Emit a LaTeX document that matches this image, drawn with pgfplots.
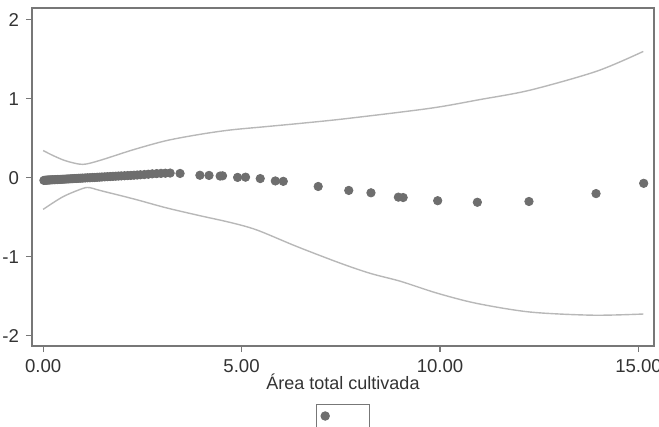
\documentclass[border=0pt]{standalone}
\usepackage{pgfplots}
\pgfplotsset{compat=1.18}
\usepackage{fontspec}
\setmainfont{Liberation Sans}
\definecolor{dotcol}{HTML}{6E6E6E}
\definecolor{cicol}{HTML}{B8B8B8}
\definecolor{framecol}{HTML}{777777}
\definecolor{txtcol}{HTML}{333333}
\begin{document}
\begin{tikzpicture}
\begin{axis}[
  at={(0,0)}, anchor=north west,
  scale only axis, width=311pt, height=169pt,
  xmin=-0.28, xmax=15.39, ymin=-2.13, ymax=2.15,
  axis line style={framecol, line width=0.7pt},
  tick style={framecol, line width=0.6pt},
  tick align=outside, major tick length=3pt,
  xtick pos=bottom, ytick pos=left,
  xtick={0,5,10,15}, ytick={-2,-1,0,1,2},
  xticklabels={0.00,5.00,10.00,15.00},
  yticklabels={-2,-1,0,1,2},
  ticklabel style={font=\fontsize{9.3}{10}\selectfont, text=txtcol},
  xlabel={Área total cultivada},
  xlabel style={font=\fontsize{9}{10}\selectfont, text=txtcol, yshift=6pt},
  clip=true,
  legend style={draw=framecol, line width=0.5pt, at={(0.4566,-0.1716)}, anchor=north west,
    inner xsep=2pt, inner ysep=3pt, font=\fontsize{9}{10}\selectfont},
  legend image code/.code={\fill[dotcol] (0.25cm,0cm) circle (2.1pt);},
]
\addplot[only marks, mark=*, mark size=2.1pt, mark options={draw=dotcol, fill=dotcol}] coordinates {
(0.02,-0.033)(0.05,-0.031)(0.08,-0.030)(0.11,-0.029)(0.14,-0.028)(0.17,-0.027)(0.20,-0.026)
(0.24,-0.025)(0.28,-0.024)(0.32,-0.023)(0.36,-0.022)(0.40,-0.021)(0.45,-0.020)(0.50,-0.018)
(0.55,-0.017)(0.60,-0.015)(0.65,-0.014)(0.70,-0.012)(0.75,-0.011)(0.80,-0.009)(0.85,-0.008)
(0.90,-0.006)(0.95,-0.005)(1.00,-0.004)(1.06,-0.002)(1.12,0.000)(1.18,0.001)(1.24,0.003)
(1.30,0.004)(1.36,0.006)(1.42,0.008)(1.48,0.010)(1.55,0.012)(1.62,0.014)(1.69,0.016)
(1.76,0.018)(1.83,0.020)(1.90,0.022)(1.97,0.024)(2.05,0.026)(2.13,0.028)(2.21,0.030)
(2.29,0.033)(2.37,0.035)(2.45,0.038)(2.55,0.041)(2.65,0.045)(2.75,0.050)(2.86,0.053)
(2.97,0.056)(3.08,0.058)(3.20,0.060)(3.45,0.055)(3.95,0.032)(4.18,0.030)(4.46,0.022)
(4.52,0.025)(4.90,0.005)(5.10,0.008)(5.47,-0.010)(5.85,-0.040)(6.05,-0.045)(6.93,-0.110)
(7.70,-0.160)(8.26,-0.190)(8.95,-0.245)(9.07,-0.250)(9.94,-0.290)(10.94,-0.310)
(12.24,-0.300)(13.93,-0.200)(15.13,-0.070)
};
\addlegendentry{\hspace*{14pt}}
\addplot[cicol, line width=0.7pt, smooth, forget plot] coordinates {
(0,0.345)(0.3,0.27)(0.6,0.21)(1.0,0.17)(1.43,0.22)(2.27,0.355)(3.1,0.47)(3.95,0.55)
(4.71,0.605)(5.55,0.645)(6.5,0.69)(7.65,0.75)(9.75,0.88)(11.0,0.99)(12.27,1.11)(13.95,1.35)(15.12,1.60)
};
\addplot[cicol, line width=0.7pt, smooth, forget plot] coordinates {
(0,-0.40)(0.5,-0.24)(1.0,-0.135)(1.18,-0.125)(1.43,-0.16)(2.3,-0.27)(3.1,-0.38)(3.95,-0.48)(4.71,-0.565)
(5.38,-0.66)(6.39,-0.87)(7.48,-1.08)(8.24,-1.21)(9.0,-1.31)(9.92,-1.46)(10.92,-1.59)
(12.27,-1.70)(13.86,-1.74)(15.12,-1.725)
};
\end{axis}
\pgfresetboundingbox
\path[use as bounding box] (-16pt,4pt) rectangle (313.5pt,-209.5pt);
\end{tikzpicture}
\end{document}
